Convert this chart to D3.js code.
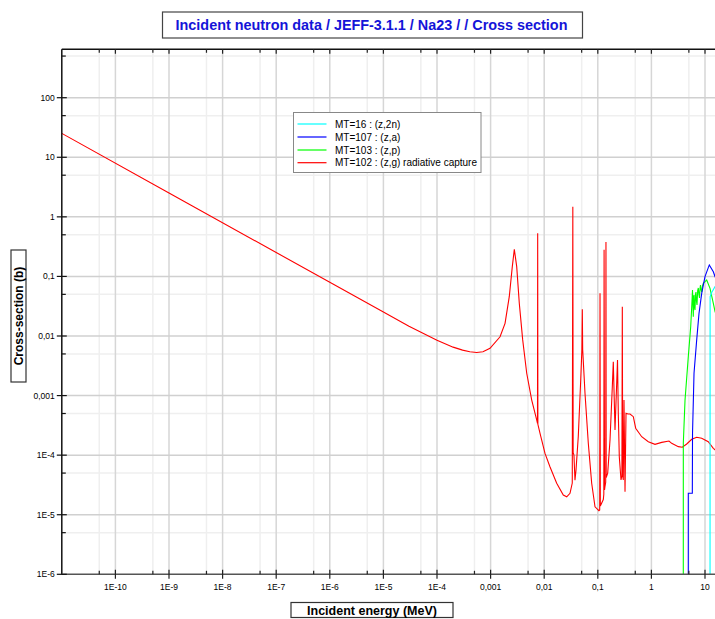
<!DOCTYPE html>
<html>
<head>
<meta charset="utf-8">
<script src="https://cdn.jsdelivr.net/npm/d3@7"></script>
<style>
  html, body { margin: 0; padding: 0; background: #ffffff; }
  svg { display: block; font-family: "Liberation Sans", Arial, sans-serif; }
</style>
</head>
<body>
<svg id="chart" width="715" height="619"></svg>
<script>
// ---- Axis ticks ----
const xMajorTicks = [1e-11, 1e-10, 1e-9, 1e-8, 1e-7, 1e-6, 1e-5, 1e-4, 1e-3, 1e-2, 1e-1, 1, 10];
const xTickLabels = ["", "1E-10", "1E-9", "1E-8", "1E-7", "1E-6", "1E-5", "1E-4", "0,001", "0,01", "0,1", "1", "10"];
const xMinorTicks = [5e-11, 5e-10, 5e-9, 5e-8, 5e-7, 5e-6, 5e-5, 5e-4, 5e-3, 5e-2, 5e-1, 5];
const yMajorTicks = [1e-6, 1e-5, 1e-4, 1e-3, 1e-2, 1e-1, 1, 10, 100];
const yTickLabels = ["1E-6", "1E-5", "1E-4", "0,001", "0,01", "0,1", "1", "10", "100"];
const yMinorTicks = [5e-6, 5e-5, 5e-4, 5e-3, 5e-2, 5e-1, 5, 50, 500];

// ---- Series: energy (MeV) and cross section (b) ----
const seriesNames = ["MT=16 : (z,2n)", "MT=107 : (z,a)", "MT=103 : (z,p)", "MT=102 : (z,g) radiative capture"];
const seriesColors = ["#00ffff", "#0000ff", "#00ff00", "#ff0000"];

const mt102Energy = [1e-11, 1e-9, 1e-7, 1e-6, 1e-5, 3e-5, 1e-4, 2e-4, 3e-4, 4.1e-4, 5.5e-4, 7.2e-4, 9.75e-4,
  1.5e-3, 1.86e-3, 2.23e-3, 2.54e-3, 2.77e-3, 3.07e-3, 3.43e-3, 3.97e-3, 4.72e-3, 5.85e-3, 7.24e-3,
  7.50e-3, 7.56e-3, 7.62e-3, 8.36e-3, 1.035e-2, 1.28e-2, 1.71e-2, 2.27e-2, 2.63e-2, 3.03e-2, 3.34e-2,
  3.42e-2, 3.47e-2, 3.59e-2, 3.75e-2, 3.92e-2, 4.32e-2, 4.80e-2, 5.05e-2, 5.14e-2, 5.22e-2, 5.77e-2,
  6.65e-2, 7.69e-2, 8.87e-2, 0.105, 0.1085, 0.110, 0.1115, 0.1267, 0.1295, 0.131, 0.1335, 0.136,
  0.1405, 0.142, 0.1435, 0.153, 0.169, 0.1865, 0.1946, 0.2094, 0.2252, 0.2332, 0.2412, 0.2518, 0.271,
  0.2815, 0.2866, 0.2915, 0.299, 0.308, 0.322, 0.336, 0.366, 0.399, 0.46, 0.509, 0.659, 0.875, 1.167,
  1.557, 2.13, 2.39, 3.18, 3.77, 4.56, 5.65, 7.0, 8.68, 11.5, 14.3, 20];
const mt102Sigma = [25.2, 2.52, 0.252, 0.0797, 0.0252, 0.0146, 0.0085, 0.0065, 0.0058, 0.00545, 0.0053, 0.00545, 0.0062,
  0.0097, 0.0163, 0.0457, 0.146, 0.285, 0.146, 0.0354, 0.0086, 0.00237, 8.4e-4, 3.9e-4,
  3.4e-4, 0.53, 3.3e-4, 2.33e-4, 1.07e-4, 6.4e-5, 3.37e-5, 2.14e-5, 2.0e-5, 2.29e-5, 3.4e-5,
  1.48, 1.1e-4, 1.0e-4, 3.8e-5, 5.6e-5, 2.04e-4, 1.82e-3, 6.0e-3, 0.028, 6.0e-3, 1.09e-3,
  1.58e-4, 3.37e-5, 1.36e-5, 1.17e-5, 1.2e-5, 0.052, 1.4e-5, 1.8e-5, 2.2e-5, 0.28, 2.6e-5, 2.95e-5,
  3.5e-5, 0.38, 4.2e-5, 5.0e-5, 1.8e-4, 1.41e-3, 3.7e-3, 2.64e-4, 1.61e-3, 3.95e-3, 5.05e-4, 9.4e-5, 3.83e-5,
  4.5e-5, 0.031, 4.5e-5, 3.83e-5, 8.4e-4, 2.44e-5, 5.05e-4, 4.91e-4, 4.91e-4, 4.42e-4, 2.83e-4, 2.04e-4, 1.68e-4, 1.52e-4,
  1.64e-4, 1.73e-4, 1.58e-4, 1.39e-4, 1.36e-4, 1.54e-4, 1.85e-4, 2.0e-4, 1.92e-4, 1.68e-4, 1.30e-4, 1.0e-4];

const mt103Energy = [3.93, 3.94, 4.24, 4.88, 5.41, 5.65, 5.85, 5.95, 6.05, 6.15, 6.24, 6.37, 6.51, 6.65, 6.79,
  6.94, 7.09, 7.3, 7.5, 7.7, 7.9, 8.07, 8.24, 8.45, 8.68, 9.0, 9.3, 10.0, 10.76, 12.4, 14.3, 15.4, 20];
const mt103Sigma = [1e-9, 1.58e-4, 8.4e-4, 4.5e-3, 0.0143, 0.031, 0.059, 0.033, 0.0211, 0.045, 0.0488, 0.030, 0.0273, 0.050, 0.0548,
  0.038, 0.0331, 0.058, 0.064, 0.050, 0.0434, 0.062, 0.0718, 0.060, 0.0548, 0.070, 0.0766, 0.082, 0.0871, 0.0632, 0.0354, 0.0256, 0.015];

const mt107Energy = [4.87, 4.88, 5.80, 5.85, 6.24, 7.0, 7.73, 8.68, 10, 12.03, 14.3, 15.4, 20];
const mt107Sigma = [1e-9, 2.29e-5, 2.29e-5, 2.3e-4, 2.37e-3, 8.6e-3, 0.024, 0.052, 0.099, 0.156, 0.12, 0.099, 0.06];

const mt16Energy = [12.4, 12.45, 13.5, 15.4, 20];
const mt16Sigma = [1e-9, 0.0457, 0.055, 0.0673, 0.09];

// ---- Layout ----
const svg = d3.select("#chart");
const plot = { left: 61.8, top: 49.3, bottom: 574.3 };
const energyMax = 20, sigmaTop = 650;

const x = d3.scaleLog().domain([1e-11, 10]).range([plot.left, 705]);
const y = d3.scaleLog().domain([1e-6, 100]).range([plot.bottom, 97.7]);
plot.right = x(energyMax);
plot.top = y(sigmaTop);

svg.append("defs").append("clipPath").attr("id", "plotClip")
  .append("rect")
  .attr("x", plot.left).attr("y", plot.top)
  .attr("width", plot.right - plot.left).attr("height", plot.bottom - plot.top);

// Grid
const grid = svg.append("g");
grid.selectAll(".xminor").data(xMinorTicks).join("line")
  .attr("x1", d => x(d)).attr("x2", d => x(d))
  .attr("y1", plot.top).attr("y2", plot.bottom)
  .attr("stroke", "#efefef").attr("stroke-width", 1.5);
grid.selectAll(".yminor").data(yMinorTicks).join("line")
  .attr("x1", plot.left).attr("x2", plot.right)
  .attr("y1", d => y(d)).attr("y2", d => y(d))
  .attr("stroke", "#efefef").attr("stroke-width", 1.5);
grid.selectAll(".xmajor").data(xMajorTicks.slice(1)).join("line")
  .attr("x1", d => x(d)).attr("x2", d => x(d))
  .attr("y1", plot.top).attr("y2", plot.bottom)
  .attr("stroke", "#d6d6d6").attr("stroke-width", 1.5);
grid.selectAll(".ymajor").data(yMajorTicks.slice(1)).join("line")
  .attr("x1", plot.left).attr("x2", plot.right)
  .attr("y1", d => y(d)).attr("y2", d => y(d))
  .attr("stroke", "#d0d0d0").attr("stroke-width", 1.5);

// Curves
const line = d3.line().x(d => x(d[0])).y(d => y(d[1]));
const curves = [
  [mt102Energy, mt102Sigma, seriesColors[3]],
  [mt103Energy, mt103Sigma, seriesColors[2]],
  [mt107Energy, mt107Sigma, seriesColors[1]],
  [mt16Energy, mt16Sigma, seriesColors[0]]
];
const curveG = svg.append("g").attr("clip-path", "url(#plotClip)");
curves.forEach(([e, s, c]) => {
  curveG.append("path")
    .datum(e.map((v, i) => [v, s[i]]))
    .attr("d", line)
    .attr("fill", "none")
    .attr("stroke", c)
    .attr("stroke-width", 1.1);
});

// Axes frame
const axes = svg.append("g");
axes.append("line").attr("x1", plot.left).attr("x2", plot.right)
  .attr("y1", plot.top).attr("y2", plot.top).attr("stroke", "#111").attr("stroke-width", 1.5);
axes.append("line").attr("x1", plot.left).attr("x2", plot.left)
  .attr("y1", plot.top).attr("y2", plot.bottom).attr("stroke", "#111").attr("stroke-width", 1.5);
axes.append("line").attr("x1", plot.left).attr("x2", plot.right)
  .attr("y1", plot.bottom).attr("y2", plot.bottom).attr("stroke", "#555").attr("stroke-width", 1.5);

// Bottom ticks
axes.selectAll(".bx").data(xMajorTicks.slice(1)).join("line")
  .attr("x1", d => x(d)).attr("x2", d => x(d))
  .attr("y1", plot.bottom - 4.5).attr("y2", plot.bottom + 4.5)
  .attr("stroke", "#222").attr("stroke-width", 1.2);
axes.selectAll(".bxm").data(xMinorTicks).join("line")
  .attr("x1", d => x(d)).attr("x2", d => x(d))
  .attr("y1", plot.bottom - 3.5).attr("y2", plot.bottom)
  .attr("stroke", "#222").attr("stroke-width", 1.2);
// Top ticks
axes.selectAll(".tx").data(xMajorTicks.slice(1)).join("line")
  .attr("x1", d => x(d)).attr("x2", d => x(d))
  .attr("y1", plot.top).attr("y2", plot.top + 4.5)
  .attr("stroke", "#222").attr("stroke-width", 1.2);
axes.selectAll(".txm").data(xMinorTicks).join("line")
  .attr("x1", d => x(d)).attr("x2", d => x(d))
  .attr("y1", plot.top).attr("y2", plot.top + 3.5)
  .attr("stroke", "#222").attr("stroke-width", 1.2);
// Left ticks
axes.selectAll(".ly").data(yMajorTicks).join("line")
  .attr("x1", plot.left - 5).attr("x2", plot.left + 5)
  .attr("y1", d => y(d)).attr("y2", d => y(d))
  .attr("stroke", "#111").attr("stroke-width", 1.2);
axes.selectAll(".lym").data(yMinorTicks).join("line")
  .attr("x1", plot.left).attr("x2", plot.left + 4)
  .attr("y1", d => y(d)).attr("y2", d => y(d))
  .attr("stroke", "#111").attr("stroke-width", 1.2);

// Tick labels
axes.selectAll(".xl").data(xMajorTicks).join("text")
  .attr("x", d => x(d)).attr("y", plot.bottom + 16)
  .attr("text-anchor", "middle").attr("font-size", 8.5).attr("fill", "#000")
  .text((d, i) => xTickLabels[i]);
axes.selectAll(".yl").data(yMajorTicks).join("text")
  .attr("x", plot.left - 7).attr("y", d => y(d) + 3)
  .attr("text-anchor", "end").attr("font-size", 8.5).attr("fill", "#000")
  .text((d, i) => yTickLabels[i]);

// Title
const title = svg.append("g");
title.append("rect").attr("x", 162.5).attr("y", 12).attr("width", 420).attr("height", 26)
  .attr("fill", "#fff").attr("stroke", "#444").attr("stroke-width", 1.2);
title.append("text").attr("x", 371.5).attr("y", 30).attr("text-anchor", "middle")
  .attr("font-size", 14.4).attr("font-weight", "bold").attr("fill", "#1414d8")
  .text("Incident neutron data / JEFF-3.1.1 / Na23 / / Cross section");

// Axis titles
const xt = svg.append("g");
xt.append("rect").attr("x", 291).attr("y", 602.5).attr("width", 162).attr("height", 15)
  .attr("fill", "#fff").attr("stroke", "#333").attr("stroke-width", 1.2);
xt.append("text").attr("x", 372).attr("y", 614.5).attr("text-anchor", "middle")
  .attr("font-size", 12.5).attr("font-weight", "bold").attr("fill", "#000")
  .text("Incident energy (MeV)");

const yt = svg.append("g").attr("transform", "translate(18.5,316) rotate(-90)");
yt.append("rect").attr("x", -66).attr("y", -7.5).attr("width", 132).attr("height", 15)
  .attr("fill", "#fff").attr("stroke", "#333").attr("stroke-width", 1.2);
yt.append("text").attr("x", 0).attr("y", 4.5).attr("text-anchor", "middle")
  .attr("font-size", 12).attr("font-weight", "bold").attr("fill", "#000")
  .text("Cross-section (b)");

// Legend
const legend = svg.append("g");
legend.append("rect").attr("x", 293.5).attr("y", 112.5).attr("width", 187.5).attr("height", 60)
  .attr("fill", "#fff").attr("stroke", "#888").attr("stroke-width", 1);
const rowY = [124, 137, 150, 162.7];
seriesNames.forEach((name, i) => {
  legend.append("line").attr("x1", 297.5).attr("x2", 326.5)
    .attr("y1", rowY[i]).attr("y2", rowY[i])
    .attr("stroke", seriesColors[i]).attr("stroke-width", 1.2);
  legend.append("text").attr("x", 335).attr("y", rowY[i] + 3.5)
    .attr("font-size", 10).attr("fill", "#000").text(name);
});
</script>
</body>
</html>
